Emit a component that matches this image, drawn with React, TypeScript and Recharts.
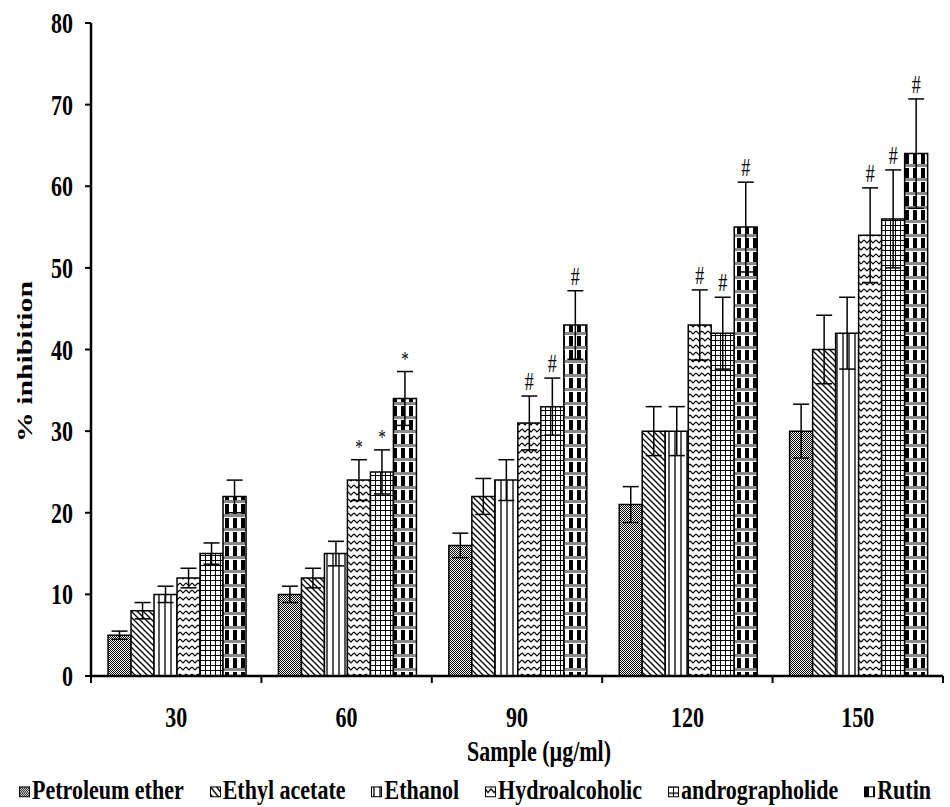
import React from 'react'
import { BarChart, Bar, XAxis, YAxis, ErrorBar, LabelList, Legend } from 'recharts'

// dose (µg/ml) on the x axis
const categories = ['30', '60', '90', '120', '150']

// % inhibition per extract, with SEM
const petroleumEther = [5, 10, 16, 21, 30]
const petroleumEtherErr = [0.5, 1, 1.5, 2.2, 3.3]
const ethylAcetate = [8, 12, 22, 30, 40]
const ethylAcetateErr = [1, 1.2, 2.2, 3, 4.2]
const ethanol = [10, 15, 24, 30, 42]
const ethanolErr = [1, 1.5, 2.5, 3, 4.4]
const hydroalcoholic = [12, 24, 31, 43, 54]
const hydroalcoholicErr = [1.2, 2.5, 3.3, 4.3, 5.8]
const andrographolide = [15, 25, 33, 42, 56]
const andrographolideErr = [1.3, 2.7, 3.5, 4.4, 6]
const rutin = [22, 34, 43, 55, 64]
const rutinErr = [2, 3.3, 4.2, 5.5, 6.7]

// significance marks
const noSig = ['', '', '', '', '']
const hydroalcoholicSig = ['', '*', '#', '#', '#']
const andrographolideSig = ['', '*', '#', '#', '#']
const rutinSig = ['', '*', '#', '#', '#']

const yTicks = [0, 10, 20, 30, 40, 50, 60, 70, 80]

const SERIES = [
  { key: 'pe', name: 'Petroleum ether', values: petroleumEther, errs: petroleumEtherErr, sig: noSig },
  { key: 'ea', name: 'Ethyl acetate', values: ethylAcetate, errs: ethylAcetateErr, sig: noSig },
  { key: 'et', name: 'Ethanol', values: ethanol, errs: ethanolErr, sig: noSig },
  { key: 'hy', name: 'Hydroalcoholic', values: hydroalcoholic, errs: hydroalcoholicErr, sig: hydroalcoholicSig },
  { key: 'an', name: 'andrographolide', values: andrographolide, errs: andrographolideErr, sig: andrographolideSig },
  { key: 'ru', name: 'Rutin', values: rutin, errs: rutinErr, sig: rutinSig },
]

const data = categories.map((c, i) => {
  const row: Record<string, string | number> = { sample: c }
  SERIES.forEach((s) => {
    row[s.key] = s.values[i]
    row[s.key + 'Err'] = s.errs[i]
    row[s.key + 'Sig'] = s.sig[i]
  })
  return row
})

const FONT = '"Liberation Serif", "Times New Roman", serif'
const STRETCH = 1.35
const W = 950
const H = 807
const MARGIN = { top: 23, right: 7, left: 0, bottom: 71 }
const Y_AXIS_W = 91
const BAND = (W - MARGIN.left - MARGIN.right - Y_AXIS_W) / categories.length

function Patterns() {
  return (
    <svg width={0} height={0} style={{ position: 'absolute' }}>
      <defs>
        <pattern id="pat-pe" width={2} height={2} patternUnits="userSpaceOnUse">
          <rect width={2} height={2} fill="#fff" />
          <rect x={0} y={0} width={1} height={1} fill="#000" />
          <rect x={1} y={1} width={1} height={1} fill="#000" />
        </pattern>
        <pattern id="pat-ea" width={6} height={6} patternUnits="userSpaceOnUse">
          <rect width={6} height={6} fill="#fff" />
          <path d="M-1,-1 L7,7 M-1,5 L1,7 M5,-1 L7,1" stroke="#000" strokeWidth={1.3} />
        </pattern>
        <pattern id="pat-et" width={6} height={10} patternUnits="userSpaceOnUse">
          <rect width={6} height={10} fill="#fff" />
          <path d="M3,0 V10" stroke="#000" strokeWidth={1.3} />
        </pattern>
        <pattern id="pat-hy" width={6} height={7} patternUnits="userSpaceOnUse">
          <rect width={6} height={7} fill="#fff" />
          <path d="M0,2 L3,5 L6,2" stroke="#000" strokeWidth={1.2} fill="none" />
        </pattern>
        <pattern id="pat-an" width={5} height={5} patternUnits="userSpaceOnUse">
          <rect width={5} height={5} fill="#fff" />
          <path d="M0,0.5 H5 M0.5,0 V5" stroke="#000" strokeWidth={1} />
        </pattern>
        <pattern id="pat-ru" width={8} height={14} patternUnits="userSpaceOnUse">
          <rect width={8} height={14} fill="#fff" />
          <rect x={1} y={0} width={4} height={10} fill="#000" />
          <rect x={0} y={10} width={8} height={3} fill="#8a8a8a" />
        </pattern>
      </defs>
    </svg>
  )
}

function XTick(props: any) {
  const { x, y, payload, index, visibleTicksCount } = props
  const half = BAND / 2
  return (
    <g>
      <line x1={x - half} x2={x - half} y1={y - 7} y2={y} stroke="#000" strokeWidth={2} />
      {index === visibleTicksCount - 1 && (
        <line x1={x + half} x2={x + half} y1={y - 7} y2={y} stroke="#000" strokeWidth={2} />
      )}
      <text
        transform={`translate(${x},${y + 44}) scale(1,${STRETCH})`}
        textAnchor="middle"
        fontFamily={FONT}
        fontWeight="bold"
        fontSize={22}
        fill="#000"
      >
        {payload.value}
      </text>
    </g>
  )
}

function YTick(props: any) {
  const { x, y, payload } = props
  return (
    <text
      transform={`translate(${x},${y + 10}) scale(1,${STRETCH})`}
      textAnchor="end"
      fontFamily={FONT}
      fontWeight="bold"
      fontSize={22}
      fill="#000"
    >
      {payload.value}
    </text>
  )
}

function XTitle(props: any) {
  const { viewBox } = props
  const cx = viewBox.x + viewBox.width / 2 + 22
  return (
    <text
      transform={`translate(${cx},${viewBox.y + 85}) scale(1,${STRETCH})`}
      textAnchor="middle"
      fontFamily={FONT}
      fontWeight="bold"
      fontSize={22}
      fill="#000"
    >
      Sample (µg/ml)
    </text>
  )
}

function YTitle(props: any) {
  const { viewBox } = props
  const cy = viewBox.y + viewBox.height / 2 + 12
  return (
    <text
      transform={`translate(32,${cy}) scale(1,${STRETCH}) rotate(-90)`}
      textAnchor="middle"
      fontFamily={FONT}
      fontWeight="bold"
      fontSize={22}
      fill="#000"
    >
      % inhibition
    </text>
  )
}

const makeSigLabel = (values: number[], errs: number[]) => (props: any) => {
  const { x, y, width, height, value, index } = props
  if (!value) return null
  const errPx = (errs[index] * height) / values[index]
  return (
    <text
      transform={`translate(${x + width / 2},${y - errPx - 6}) scale(1,${STRETCH})`}
      textAnchor="middle"
      fontFamily={FONT}
      fontSize={value === '*' ? 15 : 18}
      fill="#000"
    >
      {value}
    </text>
  )
}

function LegendContent() {
  return (
    <div
      style={{
        display: 'flex',
        justifyContent: 'center',
        whiteSpace: 'nowrap',
        fontFamily: FONT,
        fontWeight: 'bold',
        fontSize: 22,
        lineHeight: '22px',
        transform: 'scaleY(1.25)',
        color: '#000',
      }}
    >
      {SERIES.map((s, i) => (
        <span
          key={s.key}
          style={{ display: 'inline-flex', alignItems: 'center', marginRight: i === SERIES.length - 1 ? 0 : 26 }}
        >
          <svg width={11} height={9} style={{ marginTop: 3 }}>
            <rect x={0.5} y={0.5} width={10} height={8} fill={`url(#pat-${s.key})`} stroke="#000" strokeWidth={1} />
          </svg>
          <span style={{ marginLeft: 2 }}>{s.name}</span>
        </span>
      ))}
    </div>
  )
}

export default function App() {
  return (
    <div style={{ position: 'absolute', left: 0, top: 0, width: W, height: H, overflow: 'hidden', background: '#fff' }}>
      <Patterns />
      <BarChart width={W} height={H} data={data} margin={MARGIN} barCategoryGap="10%" barGap={0}>
        <XAxis
          dataKey="sample"
          height={60}
          tickLine={false}
          tickSize={7}
          tickMargin={0}
          axisLine={{ stroke: '#000', strokeWidth: 2.5 }}
          tick={<XTick />}
          interval={0}
          label={<XTitle />}
        />
        <YAxis
          width={Y_AXIS_W}
          domain={[0, 80]}
          ticks={yTicks}
          interval={0}
          tickSize={6}
          tickMargin={12}
          tickLine={{ stroke: '#000', strokeWidth: 2 }}
          axisLine={{ stroke: '#000', strokeWidth: 2.5 }}
          tick={<YTick />}
          label={<YTitle />}
        />
        <Legend
          verticalAlign="middle"
          align="center"
          layout="horizontal"
          content={<LegendContent />}
          wrapperStyle={{ top: 779, left: 0, width: W, height: 26 }}
        />
        {SERIES.map((s) => (
          <Bar
            key={s.key}
            dataKey={s.key}
            name={s.name}
            fill={`url(#pat-${s.key})`}
            stroke="#000"
            strokeWidth={1.5}
            isAnimationActive={false}
          >
            <ErrorBar dataKey={s.key + 'Err'} width={8} stroke="#000" strokeWidth={1.5} />
            <LabelList dataKey={s.key + 'Sig'} content={makeSigLabel(s.values, s.errs)} />
          </Bar>
        ))}
      </BarChart>
    </div>
  )
}
